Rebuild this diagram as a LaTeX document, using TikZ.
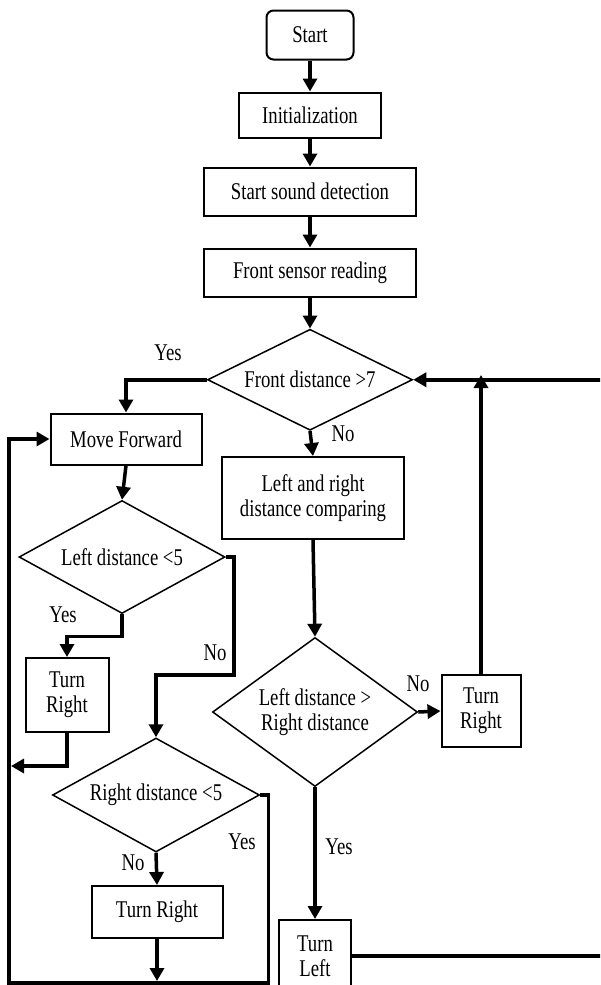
\documentclass[tikz,border=0pt]{standalone}
\usepackage{fontspec}
\setmainfont{Liberation Serif}[FakeStretch=0.78]
\usetikzlibrary{shapes.geometric, arrows.meta, positioning}

\begin{document}
\begin{tikzpicture}[
    x=1pt, y=1pt,
    every node/.style={font=\fontsize{24}{25}\selectfont},
    startstop/.style={rectangle, rounded corners=7pt, minimum width=87pt, minimum height=49pt, text centered, draw, line width=2pt},
    process/.style={rectangle, text centered, align=center, draw, line width=2pt, inner sep=2pt},
    decision/.style={diamond, inner sep=0pt, text centered, align=center, draw, line width=1.5pt},
    arrow/.style={line width=3.5pt, -{Triangle[length=13pt,width=14pt]}},
    label/.style={inner sep=0pt}
]

\useasboundingbox (0,0) rectangle (600,-985);
\clip (0,0) rectangle (600,-985);

\node (start) [startstop] at (310,-35) {Start};
\node (init) [process, minimum width=142pt, minimum height=45pt, below=31pt of start] {Initialization};
\node (sound) [process, minimum width=212pt, minimum height=48pt, below=28pt of init] {Start sound detection};
\node (front) [process, minimum width=212pt, minimum height=48pt, below=31pt of sound] {Front sensor reading};
\node (fdiam) [decision, aspect=2.03, minimum width=205pt, minimum height=101pt, below=31pt of front] {Front distance >7};

\node (move) [process, minimum width=151pt, minimum height=51pt] at (126,-439) {Move Forward};
\node (compare) [process, minimum width=182pt, minimum height=82pt] at (313,-498) {Left and right\\distance comparing};
\node (ldiam) [decision, aspect=1.82, minimum width=206pt, minimum height=113pt] at (122,-557) {Left distance <5};
\node (lturn) [process, minimum width=83pt, minimum height=74pt] at (67,-695) {Turn\\Right};
\node (rdiam) [decision, aspect=1.82, minimum width=207pt, minimum height=114pt] at (156,-795) {Right distance <5};
\node (rturn) [process, minimum width=131pt, minimum height=52pt] at (157,-912) {Turn Right};
\node (cdiam) [decision, aspect=1.38, minimum width=205pt, minimum height=149pt] at (315,-712) {Left distance >\\Right distance};
\node (cturn) [process, minimum width=79pt, minimum height=72pt] at (481,-711) {Turn\\Right};
\node (tleft) [process, minimum width=72pt, minimum height=72pt] at (315,-956) {Turn\\Left};

\coordinate (lp) at (11,-766);
\coordinate (bt) at (157,-981);
\coordinate (rr) at (481,-375);
\coordinate (rc) at (604,-660);

\draw [arrow] (start) -- (init);
\draw [arrow] (init) -- (sound);
\draw [arrow] (sound) -- (front);
\draw [arrow] (front) -- (fdiam);
\draw [arrow] (fdiam.west) -| (move.north);
\draw [arrow] (fdiam.south) -- (compare.north);
\draw [arrow] (move.south) -- (ldiam.north);
\draw [arrow] (compare.south) -- (cdiam.north);
\draw [arrow] (ldiam.south) -- ++(0,-22) -| (lturn.north);
\draw [arrow] (ldiam.east) -- ++(8,0) -- ++(0,-118) -| (rdiam.north);
\draw [arrow] (lturn.south) |- (lp);
\draw [arrow] (rdiam.east) -- ++(8,0) |- (9,-983) |- (move.west);
\draw [arrow] (rdiam.south) -- (rturn.north);
\draw [arrow] (rturn.south) -- (bt);
\draw [arrow] (cdiam.east) -- (cturn.west);
\draw [arrow] (cdiam.south) -- (tleft.north);
\draw [arrow] (cturn.north) -- (rr);
\draw [arrow] (tleft.east) -| (rc) |- (fdiam.east);

\node (yes1) [label] at (168,-353) {Yes};
\node (no1) [label] at (343,-434) {No};
\node (yes2) [label] at (63,-615) {Yes};
\node (no2) [label] at (215,-653) {No};
\node (yes3) [label] at (242,-842) {Yes};
\node (no3) [label] at (133,-863) {No};
\node (no4) [label] at (418,-684) {No};
\node (yes4) [label] at (339,-847) {Yes};

\end{tikzpicture}
\end{document}
